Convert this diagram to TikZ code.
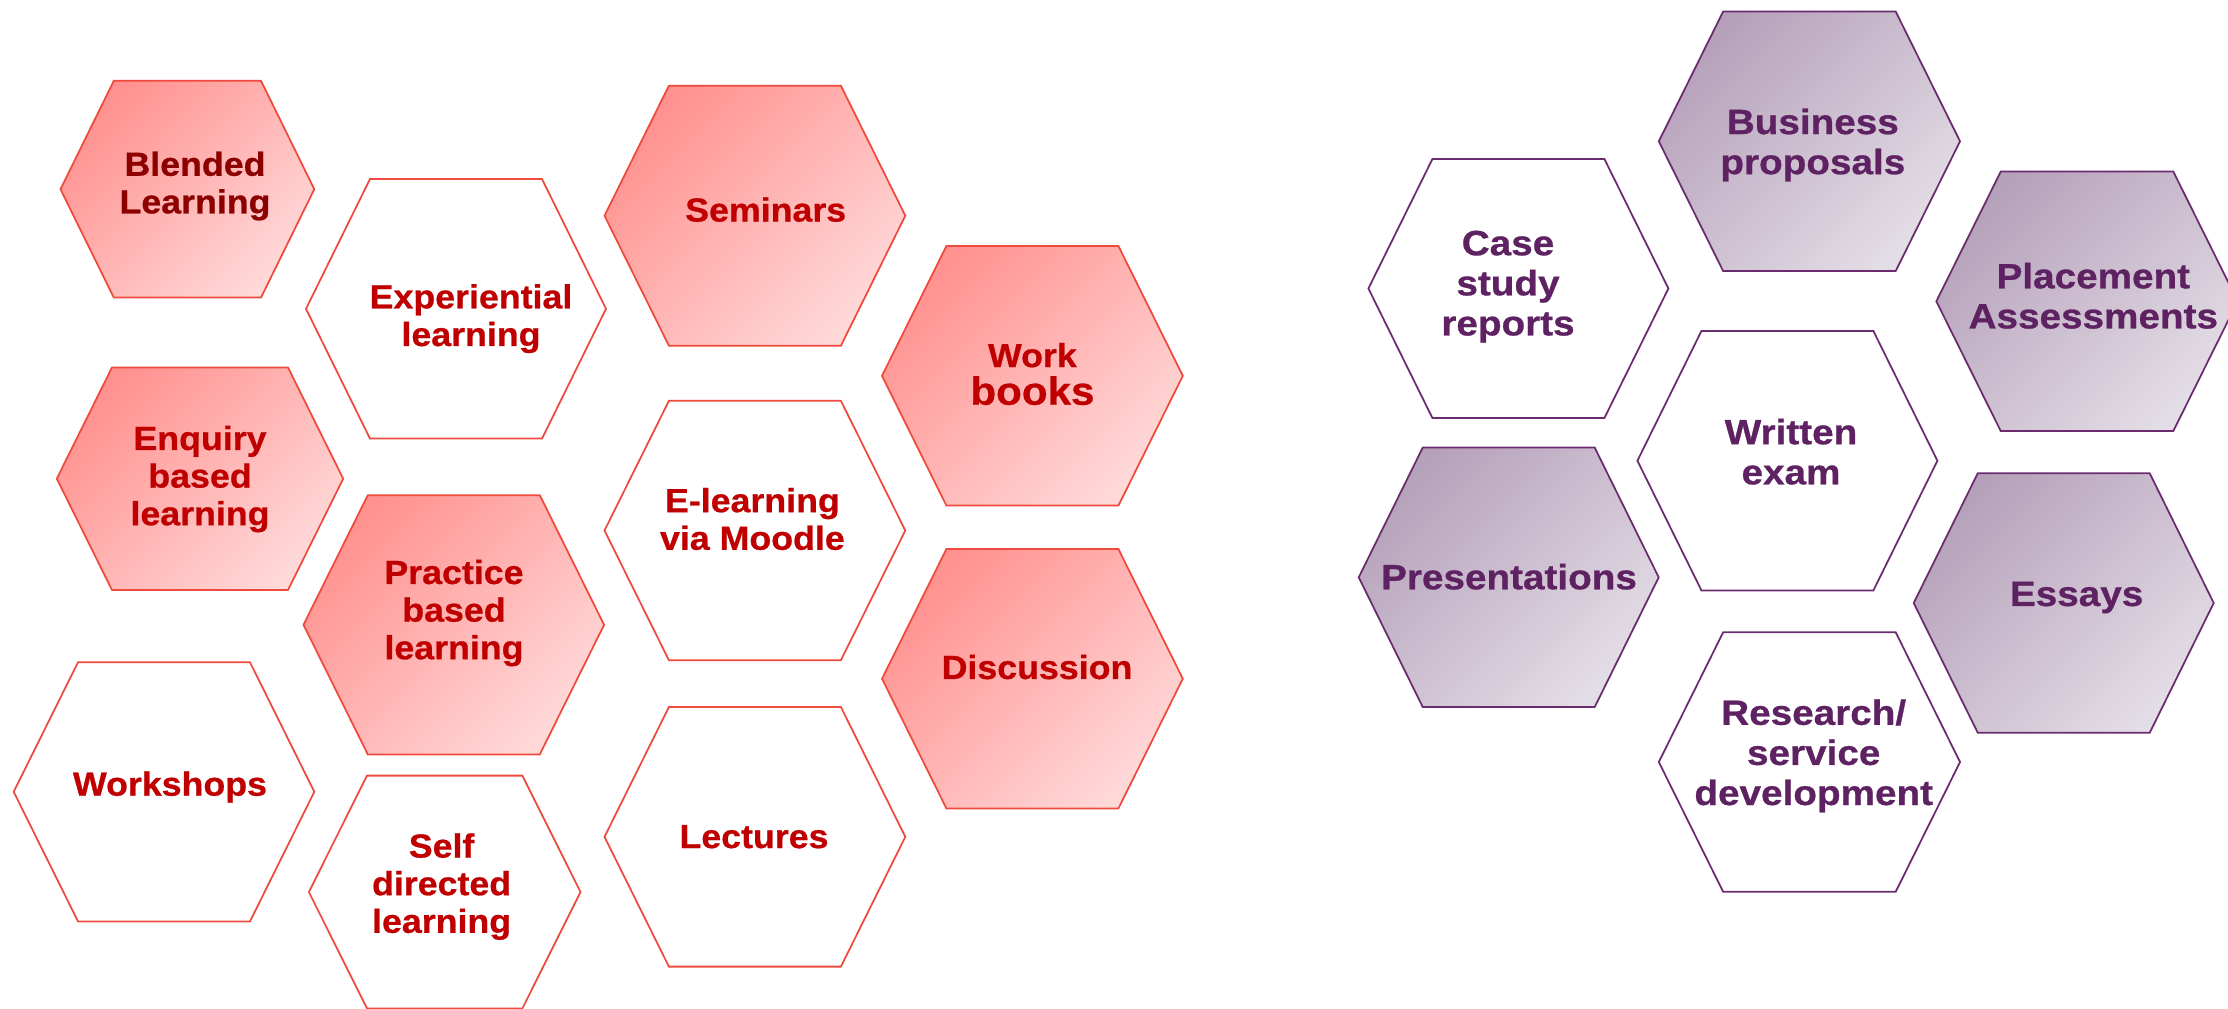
\documentclass[tikz,border=0pt]{standalone}
\usepackage{fontspec}
\usepackage{tikz}
\newfontfamily\hexfont[FakeStretch=1.07,BoldFeatures={FakeBold=0.7}]{Liberation Sans}
\newfontfamily\widehexfont[FakeStretch=1.1,BoldFeatures={FakeBold=0.7}]{Liberation Sans}
\definecolor{teachline}{HTML}{EE4A3E}
\definecolor{teachtop}{HTML}{FF9290}
\definecolor{teachbot}{HTML}{FFD8D8}
\definecolor{teachtext}{HTML}{C00000}
\definecolor{teachdark}{HTML}{8C0000}
\definecolor{assessline}{HTML}{6A2C6E}
\definecolor{assesstop}{HTML}{B6A1BB}
\definecolor{assessbot}{HTML}{E3DDE5}
\definecolor{assesstext}{HTML}{5E2162}
\tikzset{teach cell/.style={draw=teachline,line width=0.5pt,top color=teachtop,bottom color=teachbot,shading angle=45}}
\tikzset{teach blank/.style={draw=teachline,line width=0.5pt,fill=white}}
\tikzset{assess cell/.style={draw=assessline,line width=0.5pt,top color=assesstop,bottom color=assessbot,shading angle=45}}
\tikzset{assess blank/.style={draw=assessline,line width=0.5pt,fill=white}}
\tikzset{teach label/.style={align=center,inner sep=0pt,text=teachtext,font=\hexfont\bfseries\fontsize{9.5}{10.7}\selectfont}}
\tikzset{assess label/.style={align=center,inner sep=0pt,text=assesstext,font=\widehexfont\bfseries\fontsize{10}{11.4}\selectfont}}
% style, centre x, centre y, half width, half height, half top edge
\newcommand{\hexcell}[6]{\path[#1] ({#2-#4},#3) -- ({#2-#6},{#3-#5}) -- ({#2+#6},{#3-#5}) -- ({#2+#4},#3) -- ({#2+#6},{#3+#5}) -- ({#2-#6},{#3+#5}) -- cycle;}

\begin{document}
\begin{tikzpicture}[x=0.01cm,y=-0.01cm]
    \useasboundingbox (0,0) rectangle (2228,1008);

    % teaching methods
    \hexcell{teach cell}{187.4}{189.2}{126.9}{108.4}{73.6}
    \hexcell{teach blank}{456}{308.8}{150}{129.8}{86}
    \hexcell{teach cell}{200}{478.7}{143.2}{111.3}{88}
    \hexcell{teach cell}{453.8}{624.8}{150.3}{129.6}{86}
    \hexcell{teach blank}{164}{791.8}{150.3}{129.6}{86}
    \hexcell{teach blank}{444.7}{892}{135.8}{116.4}{77.7}
    \hexcell{teach cell}{754.9}{215.7}{150.4}{130}{86}
    \hexcell{teach cell}{1032.4}{375.8}{150.4}{129.8}{86}
    \hexcell{teach blank}{754.9}{530.5}{150.4}{129.7}{86}
    \hexcell{teach cell}{1032.4}{678.7}{150.4}{129.7}{86}
    \hexcell{teach blank}{754.9}{836.8}{150.4}{129.8}{86}

    \node[teach label, text=teachdark] at (195, 186) (blended){Blended\\Learning};
    \node[teach label] at (471, 318.6) (experiential){Experiential\\learning};
    \node[teach label] at (200, 479) (enquiry){Enquiry\\based\\learning};
    \node[teach label] at (454, 613) (practice){Practice\\based\\learning};
    \node[teach label] at (170, 787) (workshops){Workshops};
    \node[teach label] at (441.6, 886.6) (selfdirected){Self\\directed\\learning};
    \node[teach label] at (765.7, 209.6) (seminars){Seminars};
    \node[teach label] at (1032.4, 374) (workbooks){Work\\{\fontsize{11.2}{12}\selectfont books}};
    \node[teach label] at (752.4, 519) (elearning){E-learning\\via Moodle};
    \node[teach label] at (1037, 667) (discussion){Discussion};
    \node[teach label] at (754, 836.7) (lectures){Lectures};

    % assessment methods
    \hexcell{assess cell}{1809.4}{141.3}{150.6}{129.7}{86.3}
    \hexcell{assess blank}{1518.4}{288.5}{150}{129.5}{86}
    \hexcell{assess cell}{2087}{301.3}{150.7}{129.7}{86.3}
    \hexcell{assess blank}{1787.4}{460.7}{150}{129.7}{86}
    \hexcell{assess cell}{1508.7}{577.3}{150}{129.7}{86}
    \hexcell{assess cell}{2063.7}{603}{150}{129.7}{86}
    \hexcell{assess blank}{1809.4}{762}{150.6}{129.7}{86.3}

    \node[assess label] at (1812.8, 145) (business){Business\\proposals};
    \node[assess label] at (1508, 286.7) (casestudy){Case\\study\\reports};
    \node[assess label] at (2093.3, 295.8) (placement){Placement\\Assessments};
    \node[assess label] at (1791, 451.7) (written){Written\\exam};
    \node[assess label] at (1509, 576.7) (presentations){Presentations};
    \node[assess label] at (2076.6, 597.5) (essays){Essays};
    \node[assess label] at (1813.7, 755.8) (research){Research/\\service\\development};
\end{tikzpicture}
\end{document}
